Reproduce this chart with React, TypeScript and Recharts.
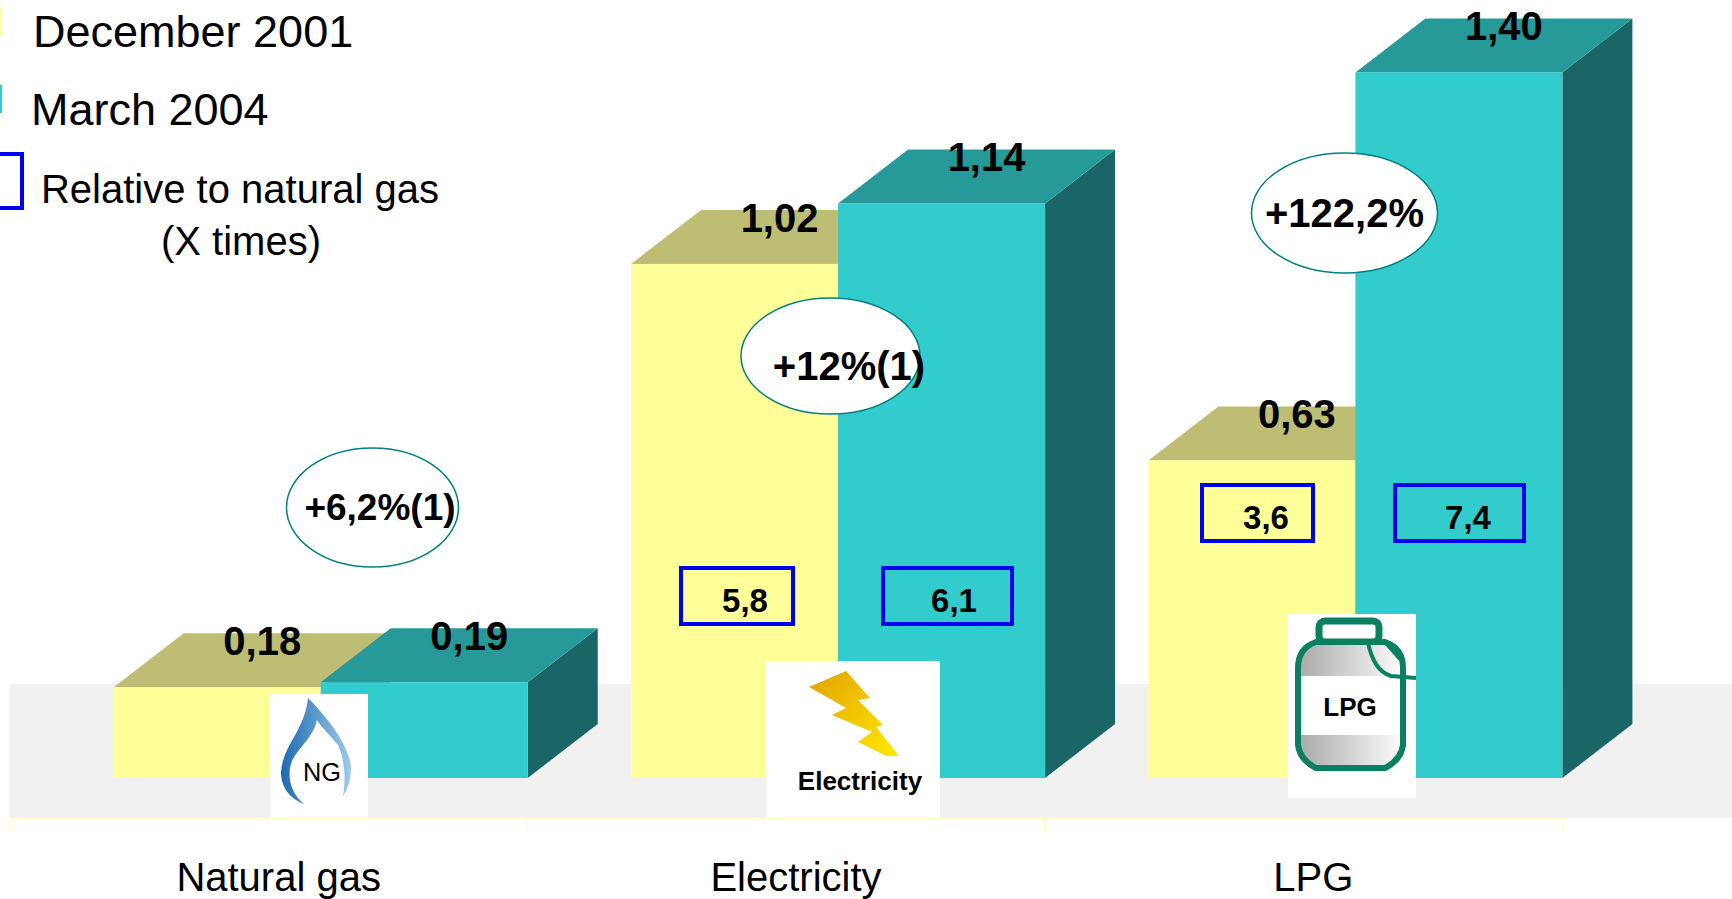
import { Bar, BarChart, LabelList, ReferenceArea, XAxis, YAxis } from 'recharts';

const categories = ['Natural gas', 'Electricity', 'LPG'];
const december2001 = [0.18, 1.02, 0.63];
const march2004 = [0.19, 1.14, 1.4];
const relativeDecember = ['', '5,8', '3,6'];
const relativeMarch = ['', '6,1', '7,4'];
const changeLabels = ['+6,2%(1)', '+12%(1)', '+122,2%'];

const chartData = categories.map((name, i) => ({
  name,
  december: december2001[i],
  march: march2004[i],
}));

const WIDTH = 1732;
const HEIGHT = 899;
const FONT = '"Liberation Sans", Arial, sans-serif';
const DEPTH_X = 70;
const DEPTH_Y = 54;
const BAND = 517.33;
// the columns sit to the right inside each axis band, like the original 3D chart
const BAND_SHIFT = 52;
const BOTTLE = 'M1316 642 Q1298 648 1298 668 L1298 745 Q1300 760 1316 768 L1385 768 Q1401 760 1403 745 L1403 668 Q1403 648 1385 642 Z';

// front, top and side faces of one extruded column
const box3d = (front: string, top: string, side: string) => (props: any) => {
  const { x, y, width, height } = props;
  const r = x + width;
  const b = y + height;
  return (
    <g>
      <polygon points={`${r},${y} ${r + DEPTH_X},${y - DEPTH_Y} ${r + DEPTH_X},${b - DEPTH_Y} ${r},${b}`} fill={side} />
      <polygon points={`${x},${y} ${x + DEPTH_X},${y - DEPTH_Y} ${r + DEPTH_X},${y - DEPTH_Y} ${r},${y}`} fill={top} />
      <rect x={x} y={y} width={width} height={height} fill={front} />
    </g>
  );
};

const valueLabel = (props: any) => {
  const { x, y, width, value } = props;
  return (
    <text
      x={x + width / 2 + 45}
      y={y - 46}
      textAnchor="middle"
      dominantBaseline="central"
      fontFamily={FONT}
      fontWeight={700}
      fontSize={40}
      fill="#000"
    >
      {value.toFixed(2).replace('.', ',')}
    </text>
  );
};

const CategoryTick = (props: any) => {
  const { x, y, payload } = props;
  const left = x - BAND_SHIFT - BAND / 2;
  const right = left + BAND;
  return (
    <g>
      <line x1={left} x2={right} y1={y} y2={y} stroke="#FFFFB0" strokeWidth={1.5} />
      <line x1={left} x2={left} y1={y} y2={y + 15} stroke="#FFFFB0" />
      <line x1={right} x2={right} y1={y} y2={y + 15} stroke="#FFFFB0" />
      <text x={x - 42} y={891} textAnchor="middle" fontFamily={FONT} fontSize={40} fill="#000">
        {payload.value}
      </text>
    </g>
  );
};

const Floor = (props: any) => (
  <rect x={props.x - BAND_SHIFT} y={props.y} width={WIDTH} height={props.height} fill="#F1F1F1" />
);

const Boxed = ({ x, y, w, cx, label }: { x: number; y: number; w: number; cx: number; label: string }) => (
  <g>
    <rect x={x} y={y} width={w} height={56} fill="none" stroke="#0000F0" strokeWidth={4} />
    <text x={cx} y={y + 32} textAnchor="middle" dominantBaseline="central" fontFamily={FONT} fontWeight={700} fontSize={33}>
      {label}
    </text>
  </g>
);

const Change = ({ cx, cy, rx, ry, tx, size, label }: any) => (
  <g>
    <ellipse cx={cx} cy={cy} rx={rx} ry={ry} fill="#fff" stroke="#008080" strokeWidth={1.5} />
    <text x={tx} y={cy + (label === '+12%(1)' ? 10 : 0)} textAnchor="middle" dominantBaseline="central" fontFamily={FONT} fontWeight={700} fontSize={size}>
      {label}
    </text>
  </g>
);

const Overlay = () => (
  <svg width={WIDTH} height={HEIGHT} style={{ position: 'absolute', left: 0, top: 0, pointerEvents: 'none' }}>
    <defs>
      <linearGradient id="flame" x1="0" y1="0" x2="1" y2="0">
        <stop offset="0%" stopColor="#1C69B0" />
        <stop offset="100%" stopColor="#9CCBEA" />
      </linearGradient>
      <linearGradient id="bolt" x1="0" y1="0" x2="1" y2="1">
        <stop offset="0%" stopColor="#E2A400" />
        <stop offset="100%" stopColor="#FFE800" />
      </linearGradient>
      <linearGradient id="metal" x1="0" y1="0" x2="1" y2="0">
        <stop offset="0%" stopColor="#A8A8A8" />
        <stop offset="100%" stopColor="#FFFFFF" />
      </linearGradient>
      <clipPath id="bottleClip">
        <path d={BOTTLE} />
      </clipPath>
    </defs>

    {/* legend */}
    <rect x={0} y={8} width={2} height={28} fill="#FFFF99" />
    <rect x={0} y={85} width={2} height={28} fill="#33CCCC" />
    <rect x={-10} y={154} width={32} height={54} fill="none" stroke="#0000F0" strokeWidth={4} />
    <g fontFamily={FONT} fill="#000">
      <text x={33} y={47} fontSize={45}>December 2001</text>
      <text x={31} y={125} fontSize={45}>March 2004</text>
      <text x={240} y={203} fontSize={40} textAnchor="middle">Relative to natural gas</text>
      <text x={241} y={255} fontSize={40} textAnchor="middle">(X times)</text>
    </g>

    {/* relative boxes */}
    <Boxed x={681} y={568} w={112} cx={745} label={relativeDecember[1]} />
    <Boxed x={883} y={568} w={129} cx={954} label={relativeMarch[1]} />
    <Boxed x={1202} y={485} w={111} cx={1266} label={relativeDecember[2]} />
    <Boxed x={1395} y={485} w={129} cx={1468} label={relativeMarch[2]} />

    {/* change bubbles */}
    <Change cx={372.5} cy={507.5} rx={86} ry={59.5} tx={380} size={37} label={changeLabels[0]} />
    <Change cx={830.5} cy={356} rx={89.5} ry={58} tx={849} size={40} label={changeLabels[1]} />
    <Change cx={1344.5} cy={213} rx={93} ry={60} tx={1344.5} size={40} label={changeLabels[2]} />

    {/* natural gas icon */}
    <rect x={270} y={694} width={98} height={124} fill="#fff" />
    <path
      d="M308 698 C305 730 283 745 281 772 C281 790 293 800 304 804 C293 795 288 782 290 768 C293 750 312 742 317 720 C322 728 330 735 338 745 C345 760 346 780 343 796 C347 790 351 780 351 768 C350 745 325 715 308 698 Z"
      fill="url(#flame)"
    />
    <text x={322} y={772} textAnchor="middle" dominantBaseline="central" fontFamily={FONT} fontSize={26} textLength={38} lengthAdjust="spacingAndGlyphs">NG</text>

    {/* electricity icon */}
    <rect x={766} y={661} width={174} height={157} fill="#fff" />
    <polygon
      points="846,671 870,698 858,700 883,725 876,727 899,756 886,756 858,742 872,732 832,715 846,708 809,687"
      fill="url(#bolt)"
    />
    <text x={860} y={790} textAnchor="middle" fontFamily={FONT} fontWeight={700} fontSize={26}>Electricity</text>

    {/* lpg icon */}
    <rect x={1288} y={614} width={128} height={184} fill="#fff" />
    <rect x={1319} y={621} width={60} height={21} rx={6} fill="#fff" stroke="#0A8060" strokeWidth={7} />
    <g clipPath="url(#bottleClip)">
      <rect x={1296} y={640} width={110} height={36} fill="url(#metal)" />
      <rect x={1296} y={735} width={110} height={36} fill="url(#metal)" />
    </g>
    <path d={BOTTLE} fill="none" stroke="#0A8060" strokeWidth={6} />
    <path d="M1368 643 C1372 660 1378 672 1391 676 L1416 678 M1385 642 L1401 660" fill="none" stroke="#0A8060" strokeWidth={4} />
    <text x={1350} y={707} textAnchor="middle" dominantBaseline="central" fontFamily={FONT} fontWeight={700} fontSize={26}>LPG</text>
  </svg>
);

export default function App() {
  return (
    <div style={{ position: 'absolute', left: 0, top: 0, width: WIDTH, height: HEIGHT, overflow: 'hidden', background: '#fff' }}>
      <BarChart
        width={WIDTH}
        height={HEIGHT}
        data={chartData}
        margin={{ top: 22, right: 118, bottom: 0, left: 62 }}
        barCategoryGap="10%"
        barGap={0}
      >
        <ReferenceArea y1={-0.0794} y2={0.1865} shape={Floor} ifOverflow="visible" />
        <XAxis
          dataKey="name"
          height={81}
          axisLine={false}
          tickLine={false}
          tickSize={0}
          tickMargin={0}
          tick={CategoryTick}
          interval={0}
        />
        <YAxis hide domain={[-0.0794, 1.5]} />
        <Bar dataKey="december" shape={box3d('#FFFF99', '#BDBD74', '#8F8F50')} isAnimationActive={false}>
          <LabelList dataKey="december" content={valueLabel} />
        </Bar>
        <Bar dataKey="march" shape={box3d('#33CCCC', '#269999', '#1A6666')} isAnimationActive={false}>
          <LabelList dataKey="march" content={valueLabel} />
        </Bar>
      </BarChart>
      <Overlay />
    </div>
  );
}
